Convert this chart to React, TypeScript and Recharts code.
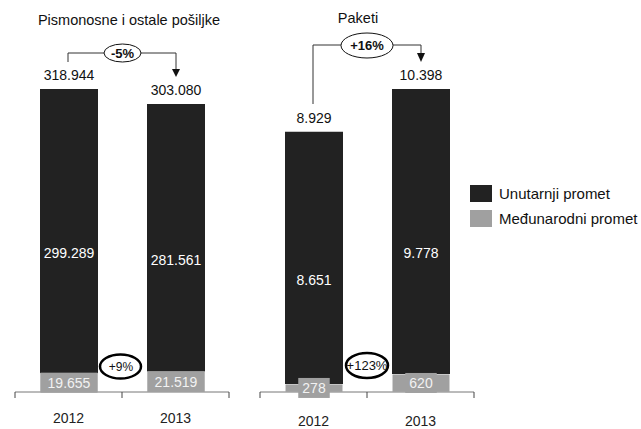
import React from 'react';
import { BarChart, Bar, XAxis, YAxis, LabelList } from 'recharts';

// values
const years = ['2012', '2013'];
const pismaDomestic = [299289, 281561];
const pismaIntl = [19655, 21519];
const paketiDomestic = [8651, 9778];
const paketiIntl = [278, 620];
const titles = ['Pismonosne i ostale pošiljke', 'Paketi'];
const totalChange = ['-5%', '+16%'];
const intlChange = ['+9%', '+123%'];
const seriesNames = ['Unutarnji promet', 'Međunarodni promet'];

const DARK = '#222222';
const GREY = '#a0a0a0';
const FONT = '"Liberation Sans", Arial, sans-serif';

const fmt = (v: number) => String(v).replace(/\B(?=(\d{3})+(?!\d))/g, '.');

const rows = (dom: number[], intl: number[]) =>
  years.map((year, i) => ({ year, domestic: dom[i], intl: intl[i], total: dom[i] + intl[i] }));

const pismaData = rows(pismaDomestic, pismaIntl);
const paketiData = rows(paketiDomestic, paketiIntl);

const CHART_W = 240;
const CHART_H = 429;

const makeTick = (bandHalf: number, count: number, dy: number) => (props: any) => {
  const { x, y, payload, index } = props;
  return (
    <g>
      <line x1={x - bandHalf} x2={x - bandHalf} y1={y} y2={y + 6} stroke="#444" />
      {index === count - 1 && <line x1={x + bandHalf} x2={x + bandHalf} y1={y} y2={y + 6} stroke="#444" />}
      <text x={x} y={y + dy} textAnchor="middle" dominantBaseline="central" fontSize={14} fill="#222">
        {payload.value}
      </text>
    </g>
  );
};

const darkLabel = (dy: number) => (props: any) => {
  const { x, y, width, height, value } = props;
  return (
    <text x={x + width / 2} y={y + height / 2 + dy} textAnchor="middle" dominantBaseline="central" fontSize={14} fill="#fff">
      {fmt(value)}
    </text>
  );
};

const greyLabel = (props: any) => {
  const { x, y, width, height, value } = props;
  const txt = fmt(value);
  const w = Math.min(width, txt.length * 8.5 + 6);
  const h = Math.max(height, 20);
  const cx = x + width / 2;
  const cy = y + height / 2;
  return (
    <g>
      <rect x={cx - w / 2} y={cy - h / 2} width={w} height={h} fill={GREY} />
      <text x={cx} y={cy} textAnchor="middle" dominantBaseline="central" fontSize={14} fill="#f2f2f2">
        {txt}
      </text>
    </g>
  );
};

const totalLabel = (props: any) => {
  const { x, y, width, value } = props;
  return (
    <text x={x + width / 2} y={y - 14} textAnchor="middle" dominantBaseline="central" fontSize={14} fill="#111">
      {fmt(value)}
    </text>
  );
};

function Panel({ data, left, top, yMax, labelDy, tickDy }: any) {
  const marginL = 15;
  const marginR = 11;
  const bandHalf = (CHART_W - marginL - marginR) / data.length / 2;
  return (
    <div style={{ position: 'absolute', left, top: 0 }}>
      <BarChart width={CHART_W} height={CHART_H} data={data} margin={{ top, right: marginR, left: marginL, bottom: 7 }} barSize={58}>
        <XAxis
          dataKey="year"
          height={30}
          tickSize={0}
          tickMargin={0}
          tickLine={false}
          axisLine={{ stroke: '#777' }}
          tick={makeTick(bandHalf, data.length, tickDy)}
        />
        <YAxis hide width={0} domain={[0, yMax]} allowDataOverflow />
        <Bar dataKey="intl" stackId="a" fill={GREY} stroke="#fff" strokeWidth={1} isAnimationActive={false}>
          <LabelList dataKey="intl" content={greyLabel} />
        </Bar>
        <Bar dataKey="domestic" stackId="a" fill={DARK} isAnimationActive={false}>
          <LabelList dataKey="domestic" content={darkLabel(labelDy)} />
          <LabelList dataKey="total" content={totalLabel} />
        </Bar>
      </BarChart>
    </div>
  );
}

function Annotations() {
  const line = '#333';
  return (
    <svg width={641} height={429} style={{ position: 'absolute', left: 0, top: 0, pointerEvents: 'none' }}>
      <text x={129} y={20} textAnchor="middle" dominantBaseline="central" fontSize={14.5} fill="#111">{titles[0]}</text>
      <text x={358} y={18} textAnchor="middle" dominantBaseline="central" fontSize={14.5} fill="#111">{titles[1]}</text>

      {/* left total change */}
      <polyline points="68,62 68,53 104,53" fill="none" stroke={line} />
      <polyline points="141,53 176,53 176,70" fill="none" stroke={line} />
      <polygon points="172,69 180,69 176,77" fill="#111" />
      <ellipse cx={122.5} cy={53} rx={18.5} ry={9} fill="#fff" stroke="#111" />
      <text x={122.5} y={53} textAnchor="middle" dominantBaseline="central" fontSize={13} fontWeight="bold" fill="#111">{totalChange[0]}</text>

      {/* right total change */}
      <polyline points="313,104 313,45 341,45" fill="none" stroke={line} />
      <polyline points="393,45 421,45 421,54" fill="none" stroke={line} />
      <polygon points="417,53 425,53 421,62" fill="#111" />
      <ellipse cx={367} cy={45.5} rx={26} ry={12.5} fill="#fff" stroke="#111" />
      <text x={367} y={45.5} textAnchor="middle" dominantBaseline="central" fontSize={13} fontWeight="bold" fill="#111">{totalChange[1]}</text>

      {/* international change */}
      <ellipse cx={120.5} cy={366.5} rx={20.5} ry={12} fill="none" stroke="#000" strokeWidth={2.5} />
      <text x={121} y={366.5} textAnchor="middle" dominantBaseline="central" fontSize={12} fill="#111">{intlChange[0]}</text>
      <ellipse cx={367} cy={365.5} rx={21} ry={12.5} fill="none" stroke="#000" strokeWidth={2.5} />
      <text x={367} y={365.5} textAnchor="middle" dominantBaseline="central" fontSize={13} fill="#111">{intlChange[1]}</text>
    </svg>
  );
}

function LegendBox() {
  const items = [DARK, GREY];
  return (
    <div style={{ position: 'absolute', left: 470, top: 185 }}>
      {seriesNames.map((name, i) => (
        <div key={name} style={{ display: 'flex', alignItems: 'center', height: 17, marginBottom: 8 }}>
          <div style={{ width: 22, height: 17, background: items[i], marginRight: 7 }} />
          <span style={{ fontSize: 15, color: '#111', whiteSpace: 'nowrap' }}>{name}</span>
        </div>
      ))}
    </div>
  );
}

export default function App() {
  return (
    <div style={{ position: 'absolute', left: 0, top: 0, width: 641, height: 429, background: '#fff', fontFamily: FONT, overflow: 'hidden' }}>
      <Panel data={pismaData} left={0} top={12} yMax={400000} labelDy={22} tickDy={26} />
      <Panel data={paketiData} left={245} top={42.3} yMax={12000} labelDy={22} tickDy={28.5} />
      <Annotations />
      <LegendBox />
    </div>
  );
}
